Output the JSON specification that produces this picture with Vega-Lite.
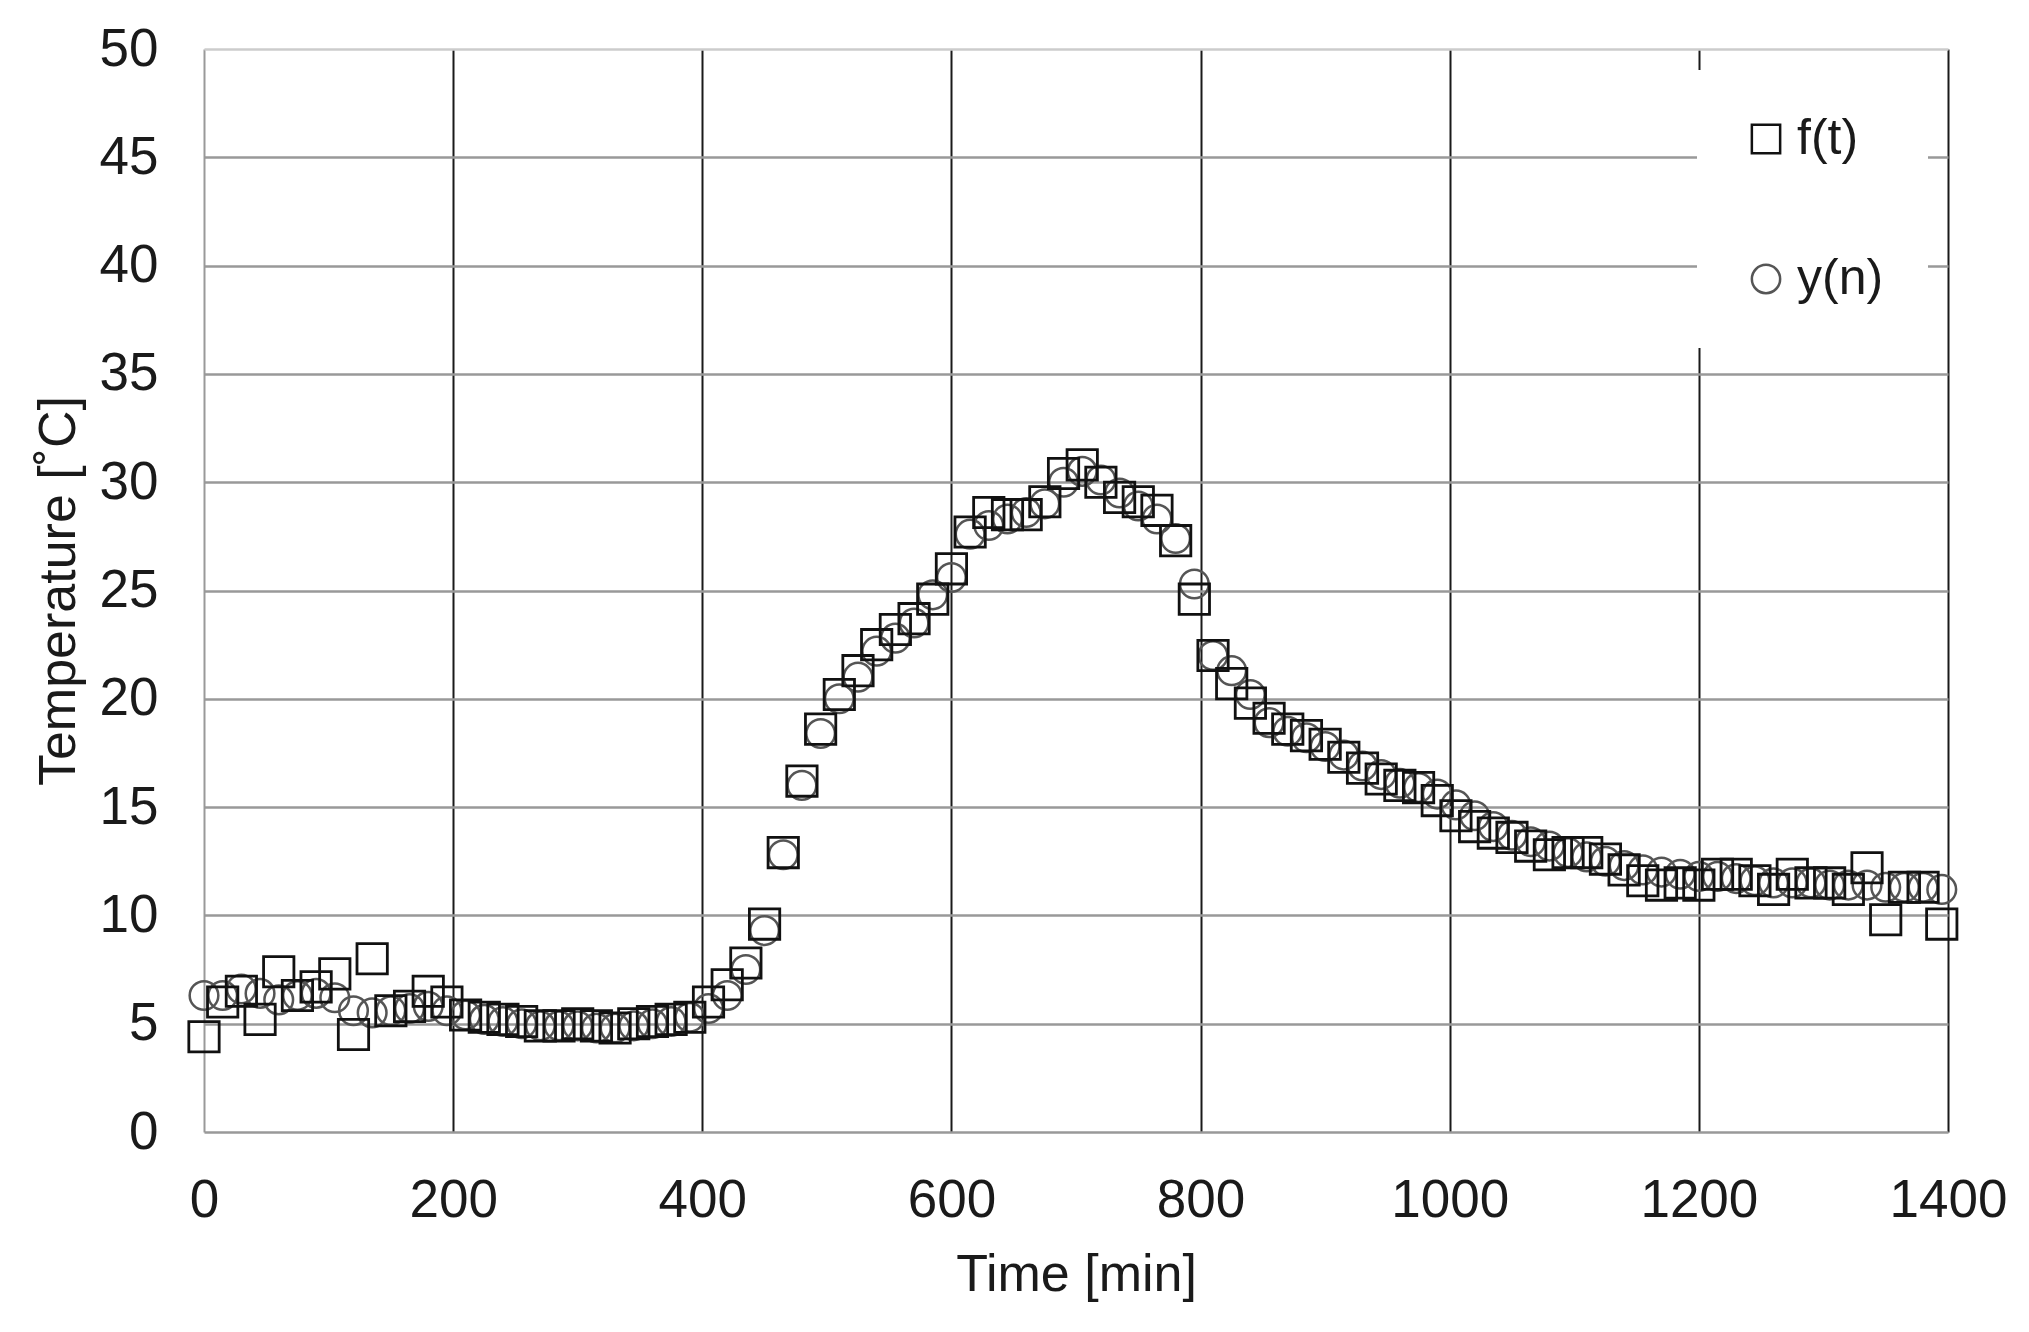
{
  "$schema": "https://vega.github.io/schema/vega-lite/v6.json",
  "width": 1744,
  "height": 1083,
  "autosize": {"type": "none"},
  "padding": {"left": 204, "top": 49, "right": 81, "bottom": 200},
  "background": "white",
  "data": {
    "values": [
      {"t": 0, "f": 4.4, "y": 6.3}, {"t": 15, "f": 6.0, "y": 6.3}, {"t": 30, "f": 6.5, "y": 6.6},
      {"t": 45, "f": 5.2, "y": 6.4}, {"t": 60, "f": 7.4, "y": 6.1}, {"t": 75, "f": 6.3, "y": 6.3},
      {"t": 90, "f": 6.7, "y": 6.4}, {"t": 105, "f": 7.3, "y": 6.2}, {"t": 120, "f": 4.5, "y": 5.6},
      {"t": 135, "f": 8.0, "y": 5.5}, {"t": 150, "f": 5.6, "y": 5.6}, {"t": 165, "f": 5.8, "y": 5.7},
      {"t": 180, "f": 6.5, "y": 5.8}, {"t": 195, "f": 6.0, "y": 5.6}, {"t": 210, "f": 5.4, "y": 5.4},
      {"t": 225, "f": 5.3, "y": 5.2}, {"t": 240, "f": 5.2, "y": 5.1}, {"t": 255, "f": 5.1, "y": 5.0},
      {"t": 270, "f": 4.9, "y": 4.9}, {"t": 285, "f": 4.9, "y": 4.9}, {"t": 300, "f": 5.0, "y": 4.9},
      {"t": 315, "f": 4.9, "y": 4.8}, {"t": 330, "f": 4.8, "y": 4.8}, {"t": 345, "f": 5.0, "y": 4.9},
      {"t": 360, "f": 5.1, "y": 5.0}, {"t": 375, "f": 5.2, "y": 5.1}, {"t": 390, "f": 5.3, "y": 5.3},
      {"t": 405, "f": 6.0, "y": 5.7}, {"t": 420, "f": 6.8, "y": 6.3}, {"t": 435, "f": 7.8, "y": 7.5},
      {"t": 450, "f": 9.6, "y": 9.3}, {"t": 465, "f": 12.9, "y": 12.8}, {"t": 480, "f": 16.2, "y": 16.0},
      {"t": 495, "f": 18.6, "y": 18.4}, {"t": 510, "f": 20.2, "y": 20.0}, {"t": 525, "f": 21.3, "y": 21.0},
      {"t": 540, "f": 22.5, "y": 22.2}, {"t": 555, "f": 23.2, "y": 22.8}, {"t": 570, "f": 23.7, "y": 23.5},
      {"t": 585, "f": 24.6, "y": 24.8}, {"t": 600, "f": 26.0, "y": 25.6}, {"t": 615, "f": 27.7, "y": 27.6},
      {"t": 630, "f": 28.6, "y": 28.0}, {"t": 645, "f": 28.5, "y": 28.3}, {"t": 660, "f": 28.5, "y": 28.6},
      {"t": 675, "f": 29.1, "y": 29.0}, {"t": 690, "f": 30.4, "y": 30.0}, {"t": 705, "f": 30.8, "y": 30.5},
      {"t": 720, "f": 30.0, "y": 30.1}, {"t": 735, "f": 29.3, "y": 29.5}, {"t": 750, "f": 29.1, "y": 28.9},
      {"t": 765, "f": 28.7, "y": 28.3}, {"t": 780, "f": 27.3, "y": 27.4}, {"t": 795, "f": 24.6, "y": 25.3},
      {"t": 810, "f": 22.0, "y": 22.0}, {"t": 825, "f": 20.7, "y": 21.3}, {"t": 840, "f": 19.8, "y": 20.2},
      {"t": 855, "f": 19.1, "y": 18.9}, {"t": 870, "f": 18.6, "y": 18.5}, {"t": 885, "f": 18.3, "y": 18.2},
      {"t": 900, "f": 17.9, "y": 17.8}, {"t": 915, "f": 17.3, "y": 17.4}, {"t": 930, "f": 16.8, "y": 16.9},
      {"t": 945, "f": 16.3, "y": 16.5}, {"t": 960, "f": 16.0, "y": 16.1}, {"t": 975, "f": 15.9, "y": 15.9},
      {"t": 990, "f": 15.3, "y": 15.6}, {"t": 1005, "f": 14.6, "y": 15.1}, {"t": 1020, "f": 14.1, "y": 14.6},
      {"t": 1035, "f": 13.8, "y": 14.1}, {"t": 1050, "f": 13.6, "y": 13.7}, {"t": 1065, "f": 13.2, "y": 13.4},
      {"t": 1080, "f": 12.8, "y": 13.2}, {"t": 1095, "f": 12.9, "y": 12.9}, {"t": 1110, "f": 12.9, "y": 12.7},
      {"t": 1125, "f": 12.6, "y": 12.5}, {"t": 1140, "f": 12.1, "y": 12.3}, {"t": 1155, "f": 11.6, "y": 12.1},
      {"t": 1170, "f": 11.4, "y": 12.0}, {"t": 1185, "f": 11.5, "y": 11.9}, {"t": 1200, "f": 11.4, "y": 11.8},
      {"t": 1215, "f": 11.9, "y": 11.8}, {"t": 1230, "f": 11.9, "y": 11.7}, {"t": 1245, "f": 11.6, "y": 11.6},
      {"t": 1260, "f": 11.2, "y": 11.5}, {"t": 1275, "f": 11.9, "y": 11.5}, {"t": 1290, "f": 11.5, "y": 11.5},
      {"t": 1305, "f": 11.5, "y": 11.4}, {"t": 1320, "f": 11.2, "y": 11.4}, {"t": 1335, "f": 12.2, "y": 11.4},
      {"t": 1350, "f": 9.8, "y": 11.3}, {"t": 1365, "f": 11.3, "y": 11.3}, {"t": 1380, "f": 11.3, "y": 11.3},
      {"t": 1395, "f": 9.6, "y": 11.2}
    ]
  },
  "transform": [
    {"fold": ["f", "y"], "as": ["key", "temp"]},
    {"calculate": "datum.key == 'f' ? 'f(t)' : 'y(n)'", "as": "series"}
  ],
  "encoding": {
    "x": {
      "field": "t",
      "type": "quantitative",
      "title": "Time [min]",
      "scale": {"domain": [0, 1400], "nice": false, "zero": false},
      "axis": {
        "values": [0, 200, 400, 600, 800, 1000, 1200, 1400],
        "format": "d",
        "grid": true,
        "gridColor": {"condition": {"test": "datum.value == 0", "value": "#999999"}, "value": "#1a1a1a"},
        "gridWidth": 2,
        "domain": false,
        "ticks": false,
        "labelFlush": false,
        "labelOverlap": false,
        "labelBound": false,
        "labelFontSize": 53,
        "labelPadding": 42,
        "titleFontSize": 52,
        "titleFontWeight": "normal",
        "titlePadding": 22
      }
    },
    "y": {
      "field": "temp",
      "type": "quantitative",
      "title": "Temperature [˚C]",
      "scale": {"domain": [0, 50], "nice": false},
      "axis": {
        "values": [0, 5, 10, 15, 20, 25, 30, 35, 40, 45, 50],
        "grid": true,
        "gridColor": {"condition": {"test": "datum.value == 50", "value": "#cccccc"}, "value": "#999999"},
        "gridWidth": 2.5,
        "domain": false,
        "ticks": false,
        "labelFlush": false,
        "labelOverlap": false,
        "labelFontSize": 53,
        "labelPadding": 46,
        "titleFontSize": 52,
        "titleFontWeight": "normal",
        "titlePadding": 14
      }
    },
    "shape": {
      "field": "series",
      "type": "nominal",
      "scale": {"domain": ["f(t)", "y(n)"], "range": ["square", "circle"]},
      "legend": {
        "title": null,
        "orient": "none",
        "legendX": 1493,
        "legendY": 21,
        "padding": 44,
        "fillColor": "white",
        "labelFontSize": 50,
        "labelOffset": 6,
        "rowPadding": 90,
        "symbolSize": 800,
        "symbolStrokeWidth": 2.5,
        "symbolFillColor": "transparent"
      }
    },
    "stroke": {
      "field": "series",
      "type": "nominal",
      "scale": {"domain": ["f(t)", "y(n)"], "range": ["#111111", "#555555"]},
      "legend": null
    }
  },
  "layer": [
    {
      "transform": [{"filter": "datum.key == 'y'"}],
      "mark": {"type": "point", "filled": false, "size": 820, "strokeWidth": 2.5, "opacity": 1}
    },
    {
      "transform": [{"filter": "datum.key == 'f'"}],
      "mark": {"type": "point", "filled": false, "size": 920, "strokeWidth": 2.8, "opacity": 1}
    }
  ],
  "config": {
    "font": "Liberation Sans",
    "view": {"stroke": null},
    "axis": {"labelColor": "#1a1a1a", "titleColor": "#1a1a1a"},
    "legend": {"labelColor": "#1a1a1a", "labelFont": "Liberation Sans"}
  }
}
